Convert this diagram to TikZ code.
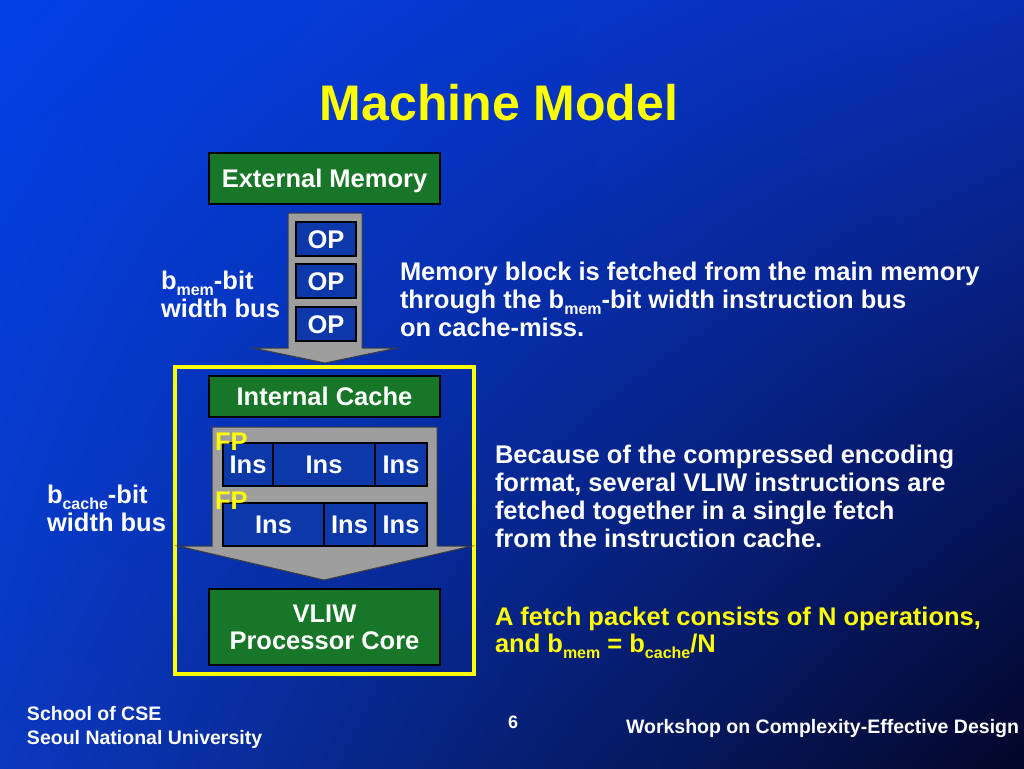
\documentclass[tikz,border=0pt]{standalone}
\usepackage{fontspec}
\setmainfont{Liberation Sans}
\usetikzlibrary{shadings}
\definecolor{bgUL}{RGB}{2,64,230}
\definecolor{bgUR}{RGB}{10,46,178}
\definecolor{bgLL}{RGB}{10,56,190}
\definecolor{bgLR}{RGB}{3,6,40}
\definecolor{boxgreen}{RGB}{24,118,40}
\definecolor{boxblue}{RGB}{12,56,170}
\definecolor{bargray}{RGB}{158,158,158}
\definecolor{bardark}{RGB}{60,60,60}
\definecolor{hiyellow}{RGB}{255,255,0}
\newcommand{\subtxt}[1]{\raisebox{-6.5pt}{\fontsize{16}{16}\selectfont #1}}
\begin{document}
\begin{tikzpicture}[x=1pt,y=-1pt,
  every node/.style={inner sep=0pt, outer sep=0pt},
  boxbase/.style={font=\bfseries\fontsize{25.5}{27}\selectfont, text=white, draw=black, line width=1.5pt},
  greenbox/.style={boxbase, fill=boxgreen, text height=18.3pt, text depth=0pt},
  bluebox/.style={boxbase, fill=boxblue, text height=18.3pt, text depth=0pt},
  bodytext/.style={font=\bfseries\fontsize{25.5}{28}\selectfont, text=white, align=left, anchor=north west},
  gbar/.style={fill=bargray, draw=bardark, line width=1pt, line join=miter},
  fplabel/.style={font=\bfseries\fontsize{25.5}{25.5}\selectfont, text=hiyellow, anchor=base west},
  footertext/.style={font=\bfseries\fontsize{19.5}{24}\selectfont, text=white},
]
\useasboundingbox (0,0) rectangle (1024,768);
\shade[upper left=bgUL, upper right=bgUR, lower left=bgLL, lower right=bgLR] (0,0) rectangle (1024,768);

% title
\node[font=\bfseries\fontsize{50}{50}\selectfont, text=hiyellow, anchor=base] (title) at (499,120) {Machine Model};

% external memory
\node[greenbox, minimum width=231pt, minimum height=51pt] (extmem) at (324.5,178.5) {External Memory};

% first bus arrow
\draw[gbar] (288,213) -- (362,213) -- (362,348) -- (397,348) -- (325,363) -- (253,348) -- (288,348) -- cycle;
\node[bluebox, minimum width=60pt, minimum height=34pt] (op1) at (326,239) {OP};
\node[bluebox, minimum width=60pt, minimum height=34pt] (op2) at (326,281) {OP};
\node[bluebox, minimum width=60pt, minimum height=34pt] (op3) at (326,324) {OP};

% yellow frame
\draw[hiyellow, line width=4pt] (175,367) rectangle (474,674);

\node[greenbox, minimum width=231pt, minimum height=41pt] (icache) at (324.5,396.5) {Internal Cache};

% second bus arrow
\draw[gbar] (212,427) -- (437,427) -- (437,546) -- (472,546) -- (324,580) -- (178,546) -- (212,546) -- cycle;

% fetch packets
\node[bluebox, minimum width=50pt, minimum height=43pt] (i11) at (248,464.5) {Ins};
\node[bluebox, minimum width=102pt, minimum height=43pt] (i12) at (324,464.5) {Ins};
\node[bluebox, minimum width=52pt, minimum height=43pt] (i13) at (401,464.5) {Ins};
\node[bluebox, minimum width=101pt, minimum height=43pt] (i21) at (273.5,524.5) {Ins};
\node[bluebox, minimum width=51pt, minimum height=43pt] (i22) at (349.5,524.5) {Ins};
\node[bluebox, minimum width=52pt, minimum height=43pt] (i23) at (401,524.5) {Ins};
\node[fplabel] (fp1) at (215,450) {FP};
\node[fplabel] (fp2) at (215,509) {FP};

% VLIW core
\node[boxbase, fill=boxgreen, align=center, minimum width=231pt, minimum height=76pt] (core) at (324.5,627) {VLIW\\Processor Core};

% side labels
\node[bodytext] (bmem) at (161,271) {b\subtxt{mem}-bit\\width bus};
\node[bodytext] (bcache) at (47,485) {b\subtxt{cache}-bit\\width bus};

% explanations
\node[bodytext] (txt1) at (400,262) {Memory block is fetched from the main memory\\through the b\subtxt{mem}-bit width instruction bus\\on cache-miss.};
\node[bodytext] (txt2) at (495,445) {Because of the compressed encoding\\format, several VLIW instructions are\\fetched together in a single fetch\\from the instruction cache.};
\node[bodytext, text=hiyellow, font=\bfseries\fontsize{25.5}{27}\selectfont] (txt3) at (495,607) {A fetch packet consists of N operations,\\and b\subtxt{mem} = b\subtxt{cache}/N};

% footer
\node[footertext, align=left, anchor=north west] (school) at (27,706) {School of CSE\\Seoul National University};
\node[footertext, font=\bfseries\fontsize{18}{18}\selectfont, anchor=base] (pnum) at (513,728) {6};
\node[footertext, anchor=base east] (workshop) at (1019,733) {Workshop on Complexity-Effective Design};
\end{tikzpicture}
\end{document}
